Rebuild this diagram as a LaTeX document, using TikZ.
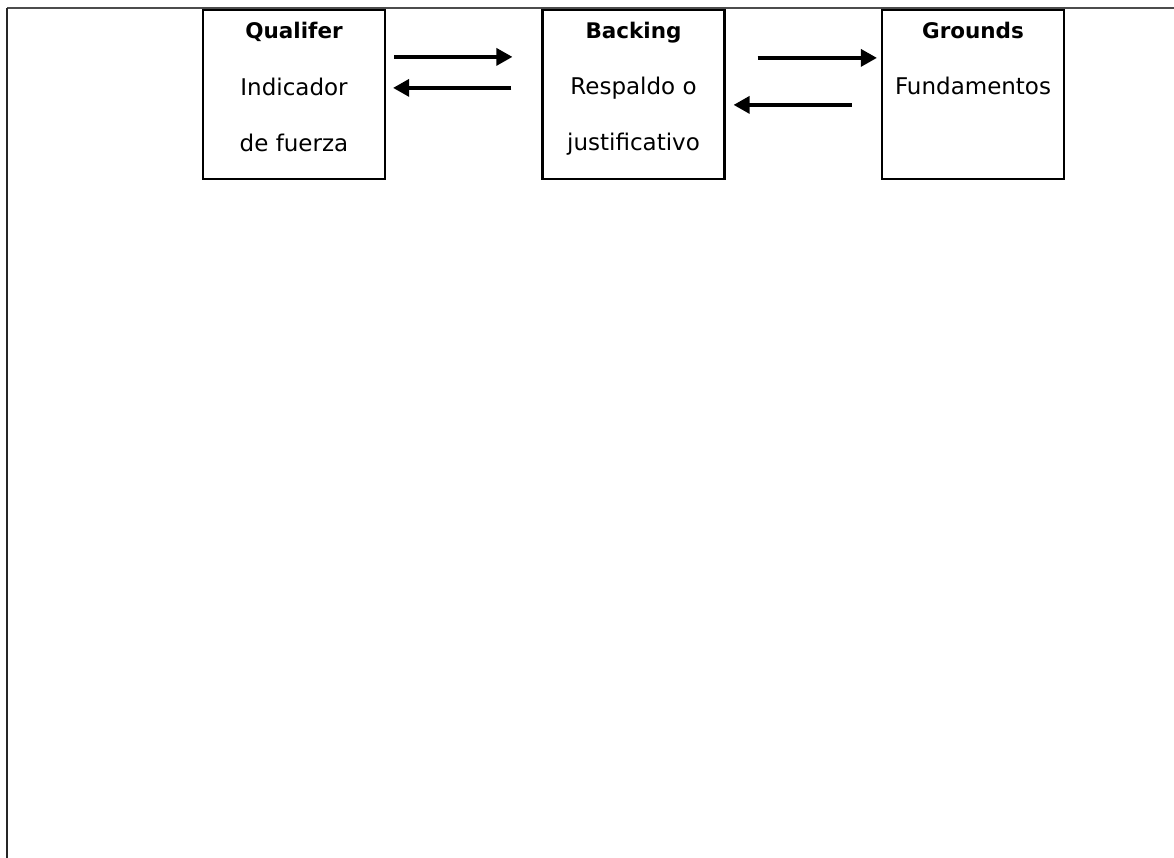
\documentclass[tikz,border=0pt]{standalone}
\usepackage{fontspec}
\setmainfont{DejaVu Sans}
\usetikzlibrary{arrows.meta,calc}
\begin{document}
\begin{tikzpicture}[x=1pt,y=-1pt,
  box/.style={draw,line width=2.2pt,minimum width=182pt,minimum height=169pt,inner sep=0pt},
  ttl/.style={anchor=base,font=\fontsize{21.5}{21.5}\selectfont\bfseries,inner sep=0pt},
  txt/.style={anchor=base,font=\fontsize{23}{23}\selectfont,inner sep=0pt},
  arr/.style={line width=3.4pt,-{Triangle[length=16pt,width=17pt]}}]
\useasboundingbox (0,0) rectangle (1174,858);
% outer frame (top and left edges)
\draw[line width=1.4pt,black!70] (1174,8) -- (7,8);
\draw[line width=2pt,black!85] (7,8) -- (7,858);
% three boxes
\node[box] (q) at (294,94.5) {};
\node[box] (b) at (633.5,94.5) {};
\node[box] (g) at (973,94.5) {};
% box texts
\node[ttl] at ($(q.north)+(0,30)$) {Qualifer};
\node[txt] at ($(q.north)+(0,87)$) {Indicador};
\node[txt] at ($(q.north)+(0,143)$) {de fuerza};
\node[ttl] at ($(b.north)+(0,30)$) {Backing};
\node[txt] at ($(b.north)+(0,86)$) {Respaldo o};
\node[txt] at ($(b.north)+(0,142)$) {justificativo};
\node[ttl] at ($(g.north)+(0,30)$) {Grounds};
\node[txt] at ($(g.north)+(0,86)$) {Fundamentos};
% arrows between boxes
\draw[arr] ($(q.north east)+(8,48)$) -- ($(b.north west)+(-29,48)$);
\draw[arr] ($(b.north west)+(-30,79)$) -- ($(q.north east)+(7,79)$);
\draw[arr] ($(b.north east)+(32,49)$) -- ($(g.north west)+(-4,49)$);
\draw[arr] ($(g.north west)+(-29,96)$) -- ($(b.north east)+(8,96)$);
\end{tikzpicture}
\end{document}
